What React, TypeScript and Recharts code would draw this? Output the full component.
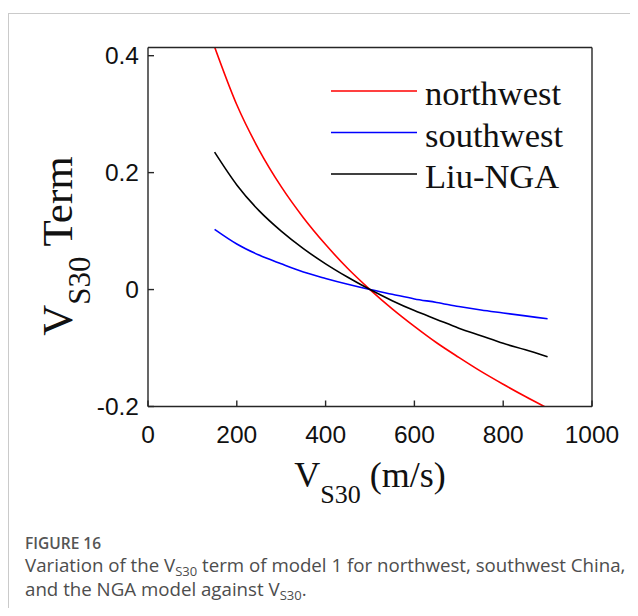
import React from 'react';
import { LineChart, Line, XAxis, YAxis, Legend } from 'recharts';

// VS30 sample points (m/s)
const vs30 = [150, 200, 250, 300, 350, 400, 450, 500, 550, 600, 650, 700, 750, 800, 850, 900];

// VS30 term for each model
const northwest = [0.415, 0.316, 0.239, 0.176, 0.123, 0.077, 0.036, 0, -0.033, -0.063, -0.091, -0.116, -0.14, -0.162, -0.183, -0.203];
const southwest = [0.103, 0.078, 0.059, 0.044, 0.03, 0.019, 0.009, 0, -0.008, -0.016, -0.022, -0.029, -0.035, -0.04, -0.045, -0.05];
const liuNga = [0.235, 0.179, 0.135, 0.1, 0.07, 0.044, 0.021, 0, -0.019, -0.036, -0.051, -0.066, -0.079, -0.092, -0.103, -0.115];

const xTicks = [0, 200, 400, 600, 800, 1000];
const yTicks = [-0.2, 0, 0.2, 0.4];

const seriesInfo = [
  { key: 'northwest', name: 'northwest', color: '#ff0000' },
  { key: 'southwest', name: 'southwest', color: '#0000ff' },
  { key: 'liuNga', name: 'Liu-NGA', color: '#000000' },
];

const data = vs30.map((v, i) => ({
  vs30: v,
  northwest: northwest[i],
  southwest: southwest[i],
  liuNga: liuNga[i],
}));

const AXIS = '#262626';
const SERIF = '"Liberation Serif", "Times New Roman", serif';
const SANS = '"Liberation Sans", Arial, sans-serif';
const tickFont = { fontFamily: SANS, fontSize: 24.5, fill: '#111' };

const XTitle = (props: any) => {
  const vb = props.viewBox;
  const cx = vb.x + vb.width / 2;
  return (
    <text x={cx} y={vb.y + 80} textAnchor="middle" fontFamily={SERIF} fontSize={36} fill="#111">
      V<tspan dy={16} fontSize={26}>S30</tspan>
      <tspan dy={-16}> (m/s)</tspan>
    </text>
  );
};

// rotated title, reads bottom to top
const YTitle = () => {
  const bx = 64;
  const by = 238;
  return (
    <text
      x={0}
      y={0}
      transform={`translate(${bx}, ${by}) rotate(-90)`}
      textAnchor="middle"
      fontFamily={SERIF}
      fontSize={43}
      fill="#111"
    >
      V<tspan dy={18} fontSize={31}>S30</tspan>
      <tspan dy={-18}> Term</tspan>
    </text>
  );
};

const renderLegend = () => (
  <svg width={270} height={150}>
    {seriesInfo.map((s, i) => {
      const y = 33 + i * 41.5;
      return (
        <g key={s.key}>
          <line x1={23} x2={109} y1={y} y2={y} stroke={s.color} strokeWidth={1.6} />
          <text x={117} y={y + 14} fontFamily={SERIF} fontSize={34.5} fill="#111">
            {s.name}
          </text>
        </g>
      );
    })}
  </svg>
);

const subStyle: React.CSSProperties = {
  fontSize: 13,
  verticalAlign: 'baseline',
  position: 'relative',
  top: 4,
  lineHeight: 0,
};

export default function App() {
  return (
    <div style={{ position: 'relative', width: 622, height: 600, overflow: 'hidden' }}>
      <div
        style={{
          position: 'absolute',
          left: 0,
          top: 5,
          width: 700,
          height: 700,
          border: '1px solid #cacaca',
          boxSizing: 'border-box',
        }}
      />
      <div style={{ position: 'absolute', left: 0, top: 0 }}>
        <LineChart
          width={622}
          height={520}
          data={data}
          margin={{ top: 29.5, right: 28, bottom: 61.5, left: 70 }}
        >
          <XAxis
            xAxisId="x"
            dataKey="vs30"
            type="number"
            domain={[0, 1000]}
            ticks={xTicks}
            tick={tickFont}
            tickSize={-6}
            tickMargin={25}
            height={60}
            stroke={AXIS}
            strokeWidth={1.4}
            label={<XTitle />}
          />
          <XAxis
            xAxisId="top"
            orientation="top"
            dataKey="vs30"
            type="number"
            domain={[0, 1000]}
            ticks={xTicks}
            tick={false}
            tickSize={-6}
            height={10}
            stroke={AXIS}
            strokeWidth={1.4}
          />
          <YAxis
            yAxisId="y"
            type="number"
            domain={[-0.2, 0.414]}
            allowDataOverflow
            ticks={yTicks}
            tick={tickFont}
            tickFormatter={(v: number) => String(v)}
            tickSize={-6}
            tickMargin={15}
            width={70}
            stroke={AXIS}
            strokeWidth={1.4}
            label={<YTitle />}
          />
          <YAxis
            yAxisId="right"
            orientation="right"
            type="number"
            domain={[-0.2, 0.414]}
            allowDataOverflow
            ticks={yTicks}
            tick={false}
            tickSize={-6}
            width={10}
            stroke={AXIS}
            strokeWidth={1.4}
          />
          <Legend
            layout="vertical"
            align="center"
            verticalAlign="middle"
            content={renderLegend}
            wrapperStyle={{ position: 'absolute', left: 300, top: 50, width: 270, height: 150 }}
          />
          {seriesInfo.map((s) => (
            <Line
              key={s.key}
              xAxisId="x"
              yAxisId="y"
              type="monotone"
              dataKey={s.key}
              name={s.name}
              stroke={s.color}
              strokeWidth={1.6}
              dot={false}
              activeDot={false}
              isAnimationActive={false}
            />
          ))}
        </LineChart>
      </div>
      <div
        style={{
          position: 'absolute',
          left: 17,
          top: 525,
          fontFamily: '"Open Sans", "Noto Sans", sans-serif',
          color: '#4d4d4d',
          whiteSpace: 'nowrap',
        }}
      >
        <div style={{ fontSize: 15.5, fontWeight: 600, color: '#555', lineHeight: '20px' }}>FIGURE 16</div>
        <div style={{ fontSize: 18.7, lineHeight: '24px' }}>
          Variation of the V<sub style={subStyle}>S30</sub> term of model 1 for northwest, southwest China,
          <br />
          and the NGA model against V<sub style={subStyle}>S30</sub>.
        </div>
      </div>
    </div>
  );
}
